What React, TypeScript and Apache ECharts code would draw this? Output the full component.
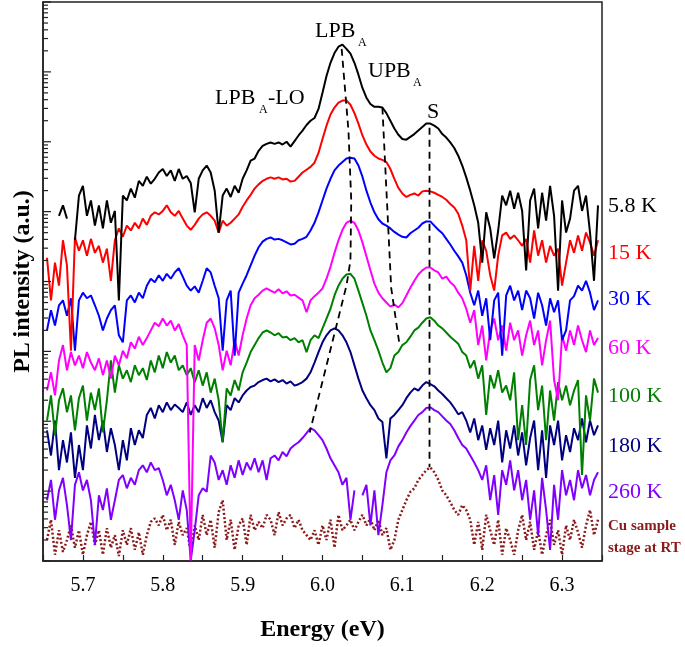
import React, { useEffect, useRef } from "react";
import * as echarts from "echarts";

// Sampling grid of the spectra (eV)
const ENERGY_START = 5.655;
const ENERGY_STEP = 0.005;
const X_TICK_LABELS = ["5.7", "5.8", "5.9", "6.0", "6.1", "6.2", "6.3"];
const Y_DECADES = [1, 10, 100, 1e3, 1e4, 1e5, 1e6, 1e7, 1e8];
const Y_MINOR_MULTIPLIERS = [2, 3, 4, 5, 6, 7, 8, 9];

// log10(PL intensity, a.u.), one value per energy sample (offset stacked on a log axis)
const LOG_I_5_8K = [
  null, null, null, 4.94, 5.09, 4.9, null, 4.59, 5.23, 5.37,
  4.94, 5.16, 4.8, 5.09, 4.76, 5.16, 4.84, 5.01, 3.73, 5.23,
  5.16, 5.33, 5.2, 5.44, 5.37, 5.5, 5.4, 5.47, 5.56, 5.61,
  5.51, 5.59, 5.44, 5.61, 5.47, 5.51, 5.41, 4.99, 5.47, 5.59,
  5.66, 5.56, 5.3, 4.7, 5.23, 5.33, 5.21, 5.37, 5.27, 5.47,
  5.59, 5.73, 5.76, 5.87, 5.94, 5.97, 5.99, 5.97, 5.99, 5.96,
  6.0, 5.93, 6.01, 6.09, 6.16, 6.24, 6.3, 6.34, 6.47, 6.7,
  6.94, 7.13, 7.27, 7.36, 7.39, 7.33, 7.26, 7.13, 6.96, 6.77,
  6.63, 6.54, 6.5, 6.5, 6.49, 6.41, 6.3, 6.19, 6.1, 6.04,
  6.03, 6.07, 6.11, 6.16, 6.21, 6.26, 6.26, 6.23, 6.19, 6.11,
  6.06, 5.99, 5.91, 5.8, 5.66, 5.49, 5.3, 5.09, 4.84, 4.27,
  4.99, 4.76, 4.33, 4.73, 5.23, 5.09, 5.3, 5.04, 5.27, 5.01,
  4.16, 5.16, 5.33, 4.76, 5.27, 4.87, 5.37, 4.94, 3.87, 5.16,
  4.7, 4.9, 5.3, 5.37, 5.01, 5.23, 4.7, 4.01, 5.09,
];
const LOG_I_15K = [
  4.34, 3.73, 4.27, 3.94, 4.59, 4.23, 3.01, 4.63, 4.44, 4.59,
  4.37, 4.61, 4.41, 4.51, 4.27, 4.47, 4.01, 4.59, 4.76, 4.64,
  4.8, 4.73, 4.84, 4.76, 4.9, 4.81, 4.94, 4.99, 4.96, 5.01,
  5.09, 4.99, 4.94, 5.01, 4.9, 4.8, 4.74, 4.81, 4.9, 4.96,
  4.99, 4.94, 4.87, 4.7, 4.87, 4.8, 4.84, 4.9, 4.96, 5.07,
  5.16, 5.24, 5.33, 5.39, 5.44, 5.47, 5.49, 5.47, 5.49, 5.46,
  5.47, 5.43, 5.44, 5.5, 5.56, 5.6, 5.64, 5.7, 5.84, 6.04,
  6.23, 6.39, 6.49, 6.56, 6.59, 6.59, 6.53, 6.41, 6.26, 6.09,
  5.96, 5.86, 5.8, 5.76, 5.74, 5.71, 5.61, 5.47, 5.34, 5.26,
  5.21, 5.24, 5.26, 5.23, 5.29, 5.3, 5.29, 5.27, 5.24, 5.21,
  5.17, 5.11, 5.06, 4.97, 4.8, 4.59, 3.87, 4.51, 4.01, 4.59,
  4.44, 4.09, 3.87, 4.37, 4.66, 4.7, 4.61, 4.66, 4.59, 4.51,
  4.61, 4.27, 4.73, 4.37, 4.59, 4.27, 4.51, 4.37, 4.47, 3.94,
  4.27, 4.59, 4.41, 4.66, 4.44, 4.7, 4.56, 4.37, 4.59,
];
const LOG_I_30K = [
  3.3, 3.59, 3.37, 3.66, 3.73, 3.51, 3.76, 3.01, 3.73, 3.84,
  3.76, 3.8, 3.66, 3.51, 3.3, 3.47, 3.59, 3.66, 3.23, 3.13,
  3.73, 3.8, 3.7, 3.84, 3.76, 3.94, 4.04, 3.99, 4.09, 4.01,
  4.11, 4.04, 4.13, 4.19, 4.07, 3.94, 3.87, 3.93, 3.84, 4.01,
  4.19, 4.13, 3.94, 3.76, 3.01, 3.73, 3.87, 2.94, 3.84, 3.97,
  4.09, 4.23, 4.37, 4.49, 4.57, 4.61, 4.63, 4.6, 4.61, 4.59,
  4.56, 4.53, 4.54, 4.59, 4.61, 4.64, 4.73, 4.84, 4.99, 5.16,
  5.33, 5.47, 5.59, 5.66, 5.71, 5.76, 5.77, 5.76, 5.66, 5.5,
  5.3, 5.13, 4.99, 4.89, 4.83, 4.8, 4.76, 4.71, 4.67, 4.64,
  4.63, 4.69, 4.73, 4.77, 4.83, 4.86, 4.86, 4.8, 4.74, 4.69,
  4.61, 4.53, 4.44, 4.36, 4.27, 4.09, 3.84, 3.66, 3.87, 3.51,
  3.76, 3.16, 3.73, 3.84, 2.94, 3.8, 3.94, 3.73, 3.87, 3.59,
  3.87, 3.76, 3.47, 3.84, 3.66, 3.37, 3.76, 3.56, 3.73, 3.16,
  3.3, 3.73, 3.79, 3.94, 3.87, 4.01, 3.84, 3.59, 3.73,
];
const LOG_I_60K = [
  2.44, 2.7, 2.37, 2.87, 3.09, 2.73, 2.99, 2.8, 2.94, 2.76,
  2.99, 2.84, 2.73, 2.9, 2.66, 2.87, 2.61, 2.94, 2.8, 3.01,
  2.9, 3.13, 3.04, 3.21, 3.09, 3.19, 3.3, 3.41, 3.36, 3.47,
  3.37, 3.44, 3.3, 3.39, 3.23, 3.09, 0.01, 3.09, 2.87, 3.16,
  3.41, 3.47, 3.33, 3.09, 2.73, 3.01, 2.8, 3.16, 2.94, 3.23,
  3.47, 3.66, 3.76, 3.81, 3.87, 3.9, 3.87, 3.84, 3.89, 3.83,
  3.86, 3.8, 3.81, 3.77, 3.73, 3.56, 3.73, 3.79, 3.84, 3.9,
  4.04, 4.21, 4.41, 4.59, 4.74, 4.84, 4.87, 4.84, 4.73, 4.56,
  4.36, 4.16, 3.97, 3.84, 3.76, 3.7, 3.64, 3.67, 3.63, 3.69,
  3.8, 3.91, 4.01, 4.1, 4.16, 4.2, 4.2, 4.16, 4.13, 4.04,
  4.07, 3.99, 3.94, 3.84, 3.76, 3.61, 3.41, 3.59, 3.09, 3.37,
  2.87, 3.3, 3.47, 3.16, 3.37, 3.01, 3.41, 3.16, 3.3, 2.94,
  3.23, 3.44, 3.09, 3.3, 2.8, 3.16, 3.44, 2.59, 2.3, 3.23,
  3.01, 3.3, 3.09, 3.37, 3.16, 2.99, 3.3, 3.09, 3.19,
];
const LOG_I_100K = [
  2.01, 2.37, 1.8, 2.3, 2.47, 2.13, 2.37, 1.87, 2.33, 2.51,
  2.01, 2.41, 2.16, 2.47, 1.84, 2.3, 2.87, 2.41, 2.8, 2.61,
  2.73, 2.56, 2.8, 2.66, 2.76, 2.59, 2.87, 2.7, 2.94, 2.76,
  2.99, 2.84, 2.94, 2.73, 2.8, 2.66, 2.76, 2.56, 2.73, 2.51,
  2.7, 2.41, 2.61, 2.3, 1.7, 2.47, 2.37, 2.59, 2.44, 2.7,
  2.84, 2.99, 3.09, 3.19, 3.27, 3.3, 3.27, 3.23, 3.26, 3.2,
  3.21, 3.16, 3.19, 3.13, 3.16, 2.99, 3.16, 3.23, 3.19, 3.33,
  3.47, 3.61, 3.8, 3.94, 4.04, 4.1, 4.11, 4.04, 3.87, 3.69,
  3.51, 3.3, 3.16, 3.01, 2.84, 2.7, 2.76, 2.94, 2.99, 3.09,
  3.13, 3.21, 3.3, 3.34, 3.41, 3.47, 3.49, 3.44, 3.37, 3.33,
  3.27, 3.21, 3.16, 3.11, 2.99, 2.94, 2.76, 2.87, 2.61, 2.8,
  2.09, 2.66, 2.47, 2.73, 2.41, 2.51, 2.3, 2.7, 1.73, 2.23,
  1.66, 2.59, 2.8, 2.16, 2.51, 1.73, 2.44, 2.01, 2.56, 2.3,
  2.51, 2.23, 2.44, 2.59, 1.23, 2.37, 2.01, 2.61, 2.41,
];
const LOG_I_180K = [
  1.87, 1.51, 2.01, 1.3, 1.73, 1.41, 1.84, 1.19, 1.66, 1.3,
  1.94, 1.61, 2.09, 1.73, 2.01, 1.56, 1.9, 1.66, 1.3, 1.73,
  1.44, 1.9, 1.66, 1.87, 1.76, 2.09, 2.19, 2.04, 2.23, 2.13,
  2.27, 2.16, 2.24, 2.19, 2.13, 2.27, 2.09, 2.23, 2.13, 2.33,
  2.19, 2.3, 2.13, 2.01, 1.7, 2.23, 2.16, 2.33, 2.27, 2.37,
  2.44, 2.49, 2.51, 2.56, 2.59, 2.61, 2.57, 2.6, 2.56, 2.59,
  2.54, 2.57, 2.51, 2.53, 2.56, 2.61, 2.7, 2.84, 2.99, 3.13,
  3.23, 3.3, 3.33, 3.3, 3.23, 3.13, 2.99, 2.8, 2.61, 2.44,
  2.33, 2.23, 2.16, 2.04, 1.99, 1.47, 2.04, 2.09, 2.16, 2.23,
  2.33, 2.41, 2.47, 2.44, 2.51, 2.56, 2.53, 2.5, 2.44, 2.39,
  2.33, 2.27, 2.19, 2.1, 2.13, 2.01, 1.84, 2.04, 1.73, 1.94,
  1.59, 1.9, 1.66, 2.01, 1.41, 1.87, 1.61, 1.94, 1.51, 1.84,
  1.37, 1.76, 2.01, 1.3, 1.87, 1.19, 1.94, 1.66, 2.01, 1.44,
  1.8, 1.56, 1.9, 1.73, 2.04, 1.7, 2.01, 1.8, 1.94,
];
const LOG_I_260K = [
  0.87, 1.16, 0.59, 1.01, 1.19, 0.8, 0.3, 1.09, 1.27, 1.01,
  1.16, 0.87, 0.23, 0.94, 0.73, 1.04, 0.59, 0.87, 1.16, 1.23,
  1.04, 1.19, 1.09, 1.3, 1.37, 1.27, 1.41, 1.3, 1.33, 1.16,
  0.94, 1.09, 0.87, 0.59, 1.01, 0.73, 0.01, 0.44, 0.94, 1.04,
  0.99, 1.51, 1.41, 1.16, 1.3, 1.09, 1.37, 1.19, 1.44, 1.23,
  1.41, 1.3, 1.47, 1.27, 1.44, 1.16, 1.47, 1.51, 1.44, 1.56,
  1.5, 1.61, 1.66, 1.7, 1.76, 1.83, 1.9, 1.87, 1.8, 1.73,
  1.61, 1.47, 1.37, 1.27, 1.09, 1.19, 0.59, 1.01, null, 0.94,
  1.09, 0.51, 1.01, 0.37, 0.8, 1.27, 1.44, 1.51, 1.64, 1.73,
  1.84, 1.93, 2.01, 2.09, 2.13, 2.19, 2.2, 2.16, 2.13, 2.07,
  2.01, 1.96, 1.87, 1.76, 1.66, 1.61, 1.51, 1.41, 1.3, 1.16,
  1.37, 0.87, 1.23, 0.66, 1.3, 1.09, 1.44, 1.01, 1.3, 0.87,
  1.16, 0.59, 1.01, 0.37, 1.19, 0.73, 0.16, 1.09, 0.59, 1.3,
  0.94, 1.16, 0.87, 1.3, 1.04, 1.23, 0.94, 1.16, 1.27,
];
const LOG_I_CU_STAGE = [
  0.3, 0.59, 0.09, 0.44, 0.13, 0.3, 0.51, 0.19, 0.44, 0.09,
  0.37, 0.56, 0.23, 0.44, 0.09, 0.47, 0.19, 0.37, 0.07, 0.44,
  0.23, 0.47, 0.16, 0.41, 0.09, 0.37, 0.56, 0.61, 0.51, 0.66,
  0.44, 0.59, 0.23, 0.56, 0.37, 0.47, 0.13, 0.51, 0.3, 0.66,
  0.37, 0.59, 0.19, 0.7, 0.87, 0.3, 0.59, 0.16, 0.51, 0.61,
  0.23, 0.66, 0.44, 0.56, 0.47, 0.66, 0.59, 0.37, 0.7, 0.51,
  0.61, 0.66, 0.47, 0.59, 0.44, 0.37, 0.3, 0.44, 0.23, 0.51,
  0.3, 0.59, 0.19, 0.66, 0.44, 0.51, 0.59, 0.44, 0.56, 0.66,
  0.51, 0.61, 0.44, 0.59, 0.37, 0.47, 0.16, 0.3, 0.59, 0.73,
  0.87, 0.99, 1.04, 1.16, 1.23, 1.3, 1.34, 1.27, 1.16, 1.01,
  0.94, 0.84, 0.73, 0.66, 0.8, 0.73, 0.59, 0.23, 0.56, 0.16,
  0.66, 0.44, 0.23, 0.59, 0.09, 0.47, 0.3, 0.09, 0.44, 0.66,
  0.3, 0.56, 0.16, 0.44, 0.09, 0.37, 0.59, 0.23, 0.44, 0.09,
  0.51, 0.3, 0.59, 0.41, 0.19, 0.51, 0.73, 0.37, 0.59,
];

// Dashed guide lines: [energy eV, log10 intensity]
const GUIDE_LPB = [[6.024, 7.33], [6.0325, 6.16], [6.036, 5.16], [6.035, 4.3], [6.03, 3.94], [5.984, 1.84]];
const GUIDE_UPB = [[6.075, 6.49], [6.086, 3.91], [6.096, 3.13]];
const GUIDE_S = [[6.134, 6.2], [6.134, 1.34]];

const SERIES_NAMES = ["Cu sample stage at RT", "260 K", "180 K", "100 K", "60 K", "30 K", "15 K", "5.8 K"];
const SERIES_COLORS = ["#8b1a1a", "#8000ff", "#000080", "#008000", "#ff00ff", "#0000ff", "#ff0000", "#000000"];
const SERIES_DATA = [LOG_I_CU_STAGE, LOG_I_260K, LOG_I_180K, LOG_I_100K, LOG_I_60K, LOG_I_30K, LOG_I_15K, LOG_I_5_8K];

const FONT = "'Liberation Serif', 'Times New Roman', serif";

export default function App() {
  const ref = useRef<HTMLDivElement>(null);
  useEffect(() => {
    if (!ref.current) return;
    const chart = echarts.init(ref.current, null, { renderer: "svg" });
    const toPoints = (arr: (number | null)[]) =>
      arr.map((v, i) => [
        +(ENERGY_START + i * ENERGY_STEP).toFixed(4),
        v == null ? "-" : Math.pow(10, v),
      ]);
    const guide = (pts: number[][]) => pts.map((p) => [p[0], Math.pow(10, p[1])]);

    const yTicks: number[][] = [];
    Y_DECADES.forEach((d, i) => {
      yTicks.push([5.65, d, 8]);
      if (i < Y_DECADES.length - 1) Y_MINOR_MULTIPLIERS.forEach((m) => yTicks.push([5.65, d * m, 5]));
    });

    const lineSeries: any[] = SERIES_DATA.map((arr, i) => ({
      name: SERIES_NAMES[i],
      type: "line",
      data: toPoints(arr),
      showSymbol: false,
      symbol: "none",
      connectNulls: false,
      lineStyle:
        i === 0
          ? { color: SERIES_COLORS[i], width: 2.5, type: [2, 2.2] }
          : { color: SERIES_COLORS[i], width: 2 },
      z: 2 + i,
    }));
    const guides = [GUIDE_LPB, GUIDE_UPB, GUIDE_S].map((g) => ({
      type: "line",
      data: guide(g),
      showSymbol: false,
      symbol: "none",
      lineStyle: { color: "#000", width: 1.8, type: [7, 5] },
      z: 20,
    }));

    const txt = (text: string, x: number, y: number, size: number, color = "#000", weight = "normal") => ({
      type: "text",
      x,
      y,
      z: 100,
      style: {
        text,
        fill: color,
        fontSize: size,
        fontFamily: FONT,
        fontWeight: weight,
        align: "left",
        verticalAlign: "middle",
      },
    });

    const rightLabelY = [null, 490.5, 444.5, 394.5, 346.5, 297.5, 251, 204.5];
    const graphics: any[] = [
      txt("LPB", 315, 29.5, 22),
      txt("A", 358, 42, 12),
      txt("UPB", 368, 69, 22),
      txt("A", 413, 81.5, 12),
      txt("LPB", 215, 96.5, 22),
      txt("A", 259, 109, 12),
      txt("-LO", 268, 96.5, 22),
      txt("S", 427, 110.5, 22),
      txt("Cu sample", 608, 525, 15, "#8b1a1a", "bold"),
      txt("stage at RT", 608, 547, 15, "#8b1a1a", "bold"),
    ];
    SERIES_NAMES.forEach((n, i) => {
      const y = rightLabelY[i];
      if (y != null) graphics.push(txt(n, 608, y, 22, SERIES_COLORS[i]));
    });

    chart.setOption({
      animation: false,
      grid: { left: 43, right: 83, top: 2, bottom: 86, show: true, borderColor: "#222", borderWidth: 1.5, backgroundColor: "transparent" },
      xAxis: {
        type: "value",
        min: 5.65,
        max: 6.35,
        interval: 0.05,
        name: "Energy (eV)",
        nameLocation: "middle",
        nameGap: 55,
        nameTextStyle: { fontFamily: FONT, fontSize: 24, fontWeight: "bold", color: "#000" },
        axisLine: { lineStyle: { color: "#222", width: 1.5 } },
        axisTick: { inside: true, length: 6, lineStyle: { color: "#222", width: 1.2 } },
        axisLabel: {
          margin: 13,
          fontFamily: FONT,
          fontSize: 20,
          color: "#000",
          formatter: (v: number) => {
            const c = Math.round(v * 100);
            if (c % 10 !== 0) return "";
            const l = (c / 100).toFixed(1);
            return X_TICK_LABELS.indexOf(l) >= 0 ? l : "";
          },
        },
        splitLine: { show: false },
      },
      yAxis: {
        type: "log",
        logBase: 10,
        min: 1,
        max: 1e8,
        name: "PL intensity (a.u.)",
        nameLocation: "middle",
        nameGap: 10,
        nameTextStyle: { fontFamily: FONT, fontSize: 24, fontWeight: "bold", color: "#000" },
        axisLine: { show: true, lineStyle: { color: "#222", width: 1.5 } },
        axisTick: { show: false },
        axisLabel: { show: false },
        splitLine: { show: false },
        minorTick: { show: false },
      },
      series: [
        ...lineSeries,
        ...guides,
        {
          type: "custom",
          silent: true,
          clip: false,
          z: 30,
          data: yTicks,
          encode: { x: 0, y: 1 },
          renderItem: (_p: any, api: any) => {
            const pt = api.coord([api.value(0), api.value(1)]);
            const len = api.value(2);
            return {
              type: "line",
              shape: { x1: pt[0], y1: pt[1], x2: pt[0] + len, y2: pt[1] },
              style: { stroke: "#222", lineWidth: 1.2 },
            };
          },
        },
      ],
      graphic: graphics,
    });
    return () => chart.dispose();
  }, []);
  return <div ref={ref} style={{ position: "fixed", left: 0, top: 0, width: 685, height: 647 }} />;
}
